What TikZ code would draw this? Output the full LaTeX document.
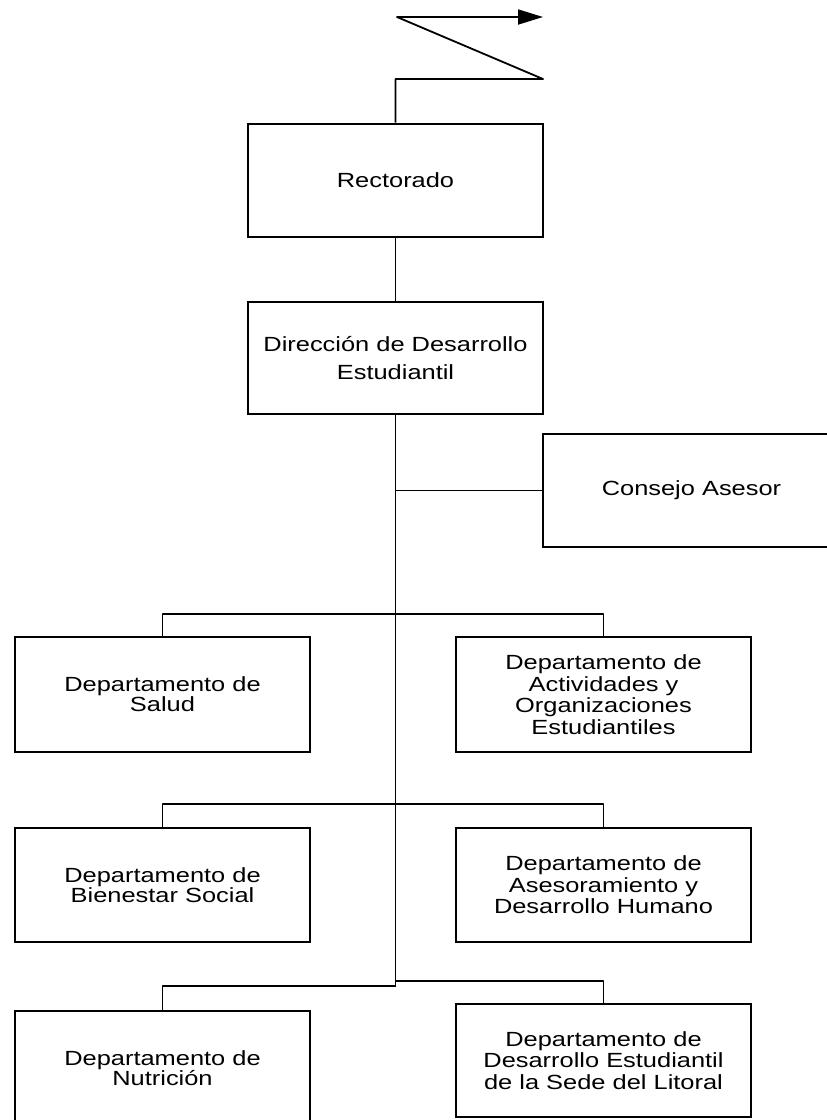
\documentclass[tikz,border=0pt]{standalone}
\usepackage{fontspec}
\setmainfont{Liberation Sans}[FakeStretch=1.24]
\usetikzlibrary{arrows.meta}
\begin{document}
\begin{tikzpicture}[x=1pt,y=-1pt,
  box/.style={draw, line width=2.8pt, minimum width=295pt, minimum height=114pt,
    inner sep=0pt, align=center, font=\fontsize{20.5}{21.5}\selectfont},
  twoline/.style={font=\fontsize{20.5}{18.5}\selectfont},
  wire/.style={line width=1.8pt, line join=round}]
\useasboundingbox (0,0) rectangle (827,1120);
\clip (0,0) rectangle (827,1120);

\node[box, minimum height=113pt] (rect) at (395.5,180.5) {Rectorado};
\node[box, minimum height=112pt, font=\fontsize{20.5}{27.5}\selectfont] (dir) at (395.5,358) {Dirección de Desarrollo\\Estudiantil};
\node[box, minimum width=297pt, minimum height=113pt] (cons) at (691.5,490.5) {Consejo Asesor};

\node[box, twoline, minimum height=115pt] (salud) at (162.5,694.5) {Departamento de\\Salud};
\node[box, minimum height=115pt] (activ) at (603.5,694.5) {Departamento de\\Actividades y\\Organizaciones\\Estudiantiles};
\node[box, twoline] (bien) at (162.5,885) {Departamento de\\Bienestar Social};
\node[box] (aseso) at (603.5,885) {Departamento de\\Asesoramiento y\\Desarrollo Humano};
\node[box, twoline] (nutri) at (162.5,1068) {Departamento de\\Nutrición};
\node[box, minimum height=113pt] (lit) at (603.5,1060.5) {Departamento de\\Desarrollo Estudiantil\\de la Sede del Litoral};

% zigzag on top
\coordinate (z1) at (395.5,79);
\coordinate (z2) at (543,79);
\coordinate (z3) at (397,17);
\coordinate (z4) at (543,17);
\draw[wire, -{Triangle[length=25pt,width=15pt]}] (rect.north) -- (z1) -- (z2) -- (z3) -- (z4);

% trunk
\draw[wire] (rect.south) -- (dir.north);
\coordinate (jc) at (395.5,490.5);
\coordinate (j1) at (395.5,614);
\coordinate (j2) at (395.5,804);
\coordinate (j3) at (395.5,986);
\coordinate (j3r) at (395.5,981);
\draw[wire] (dir.south) -- (j3);
\draw[wire] (jc) -- (cons.west);

\draw[wire] (salud.north) -- (salud.north |- j1) -- (activ.north |- j1) -- (activ.north);
\draw[wire] (bien.north) -- (bien.north |- j2) -- (aseso.north |- j2) -- (aseso.north);
\draw[wire] (nutri.north) -- (nutri.north |- j3) -- (j3);
\draw[wire] (j3r) -- (lit.north |- j3r) -- (lit.north);
\end{tikzpicture}
\end{document}
